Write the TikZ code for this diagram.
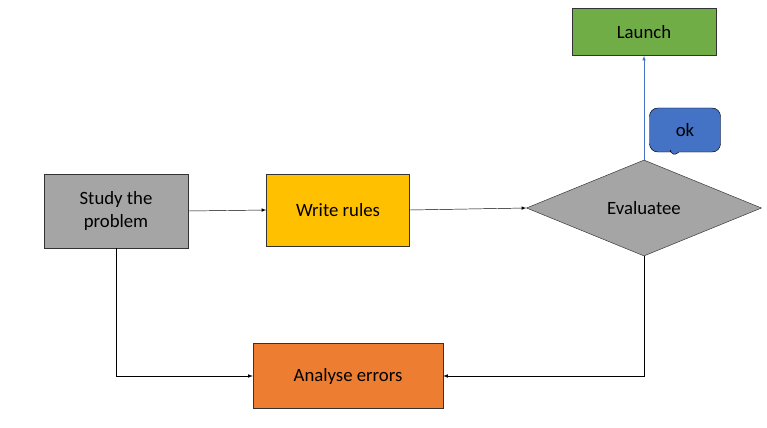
\documentclass[tikz,border=0pt]{standalone}
\usepackage{fontspec}
\setmainfont{Carlito}
\usetikzlibrary{positioning}
\usetikzlibrary{shapes.geometric,shapes.callouts}

\definecolor{boxgray}{HTML}{A5A5A5}
\definecolor{boxgold}{HTML}{FFC000}
\definecolor{boxgreen}{HTML}{70AD47}
\definecolor{boxorange}{HTML}{ED7D31}
\definecolor{boxblue}{HTML}{4472C4}

\begin{document}
\begin{tikzpicture}[x=0.03cm, y=-0.03cm,
        every node/.style = {font = \fontsize{16}{19}\selectfont, text = black},
        block/.style = {shape = rectangle, draw = black!80, thin, align = center, inner sep = 0.05cm},
        test/.style = {shape = diamond, draw = black!80, thin, fill = boxgray, aspect = 2.45, minimum width = 7.05cm, minimum height = 2.88cm, inner sep = 0},
        flow/.style = {-latex, black, thin},
    ]
    \useasboundingbox (0,0) rectangle (767,428);
    \node[block, fill = boxgray, minimum width = 4.32cm, minimum height = 2.22cm] (study) at (116,211) {Study the\\problem};
    \node[block, fill = boxgold, minimum width = 4.29cm, minimum height = 2.16cm] (rules) at (338,210) {Write rules};
    \node[test] (eval) at (644,208) {Evaluatee};
    \node[block, fill = boxgreen, minimum width = 4.32cm, minimum height = 1.41cm] (launch) at (644,32) {Launch};
    \node[block, fill = boxorange, minimum width = 5.7cm, minimum height = 1.95cm] (errors) at (348,376) {Analyse errors};
    \node[rectangle callout, draw = black, fill = boxblue, rounded corners = 0.25cm, minimum width = 2.13cm, minimum height = 1.32cm, callout absolute pointer = {(672,158)}] (ok) at (685,130) {ok};

    \draw[flow] (study.east) -- (rules.west);
    \draw[flow] (rules.east) -- (eval.west);
    \draw[-latex, boxblue, thin] (eval.north) -- (launch.south);
    \draw[flow] (study.south) |- (errors.west);
    \draw[flow] (eval.south) |- (errors.east);
\end{tikzpicture}
\end{document}
